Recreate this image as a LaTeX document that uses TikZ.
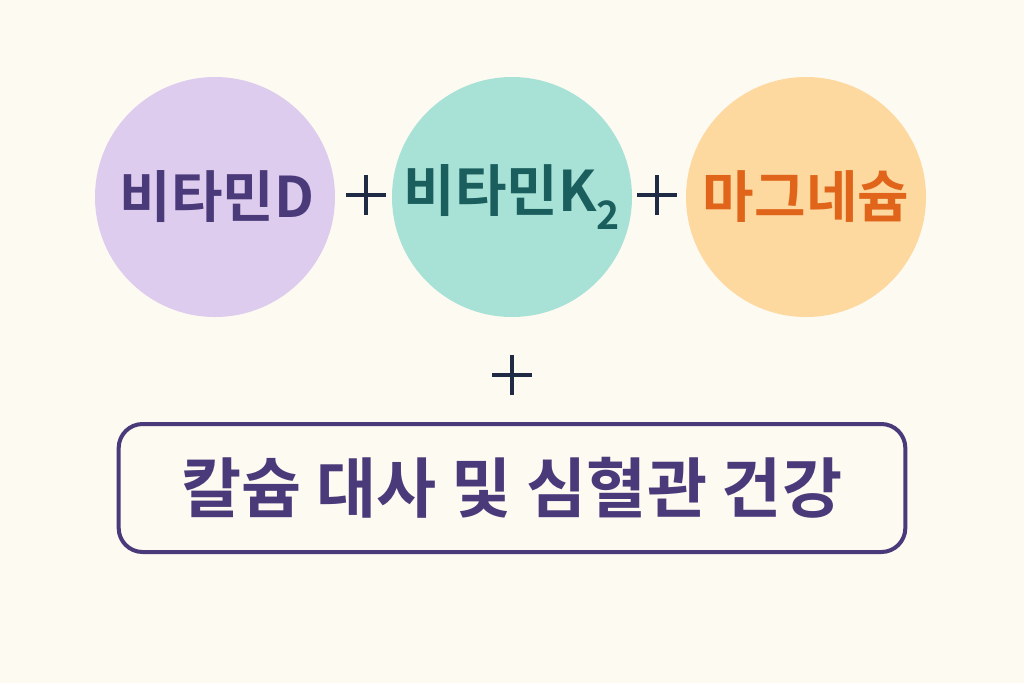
\documentclass[tikz,border=0pt]{standalone}
\usepackage{fontspec}
\newfontfamily\kr[BoldFont={Noto Sans CJK KR Bold}]{Noto Sans CJK KR}
\definecolor{bg}{HTML}{FDFAF2}
\definecolor{cpur}{HTML}{DDCCEE}
\definecolor{tpur}{HTML}{4A3A7A}
\definecolor{cteal}{HTML}{A8E2D6}
\definecolor{tteal}{HTML}{1B5E5E}
\definecolor{corg}{HTML}{FDD9A0}
\definecolor{torg}{HTML}{E0651A}
\definecolor{plusc}{HTML}{1F2A44}
\tikzset{circ/.style={circle,minimum size=180pt,inner sep=0pt},
lbl/.style={font=\kr\bfseries\fontsize{42}{48}\selectfont},
plus/.style={plusc,line width=3.6pt}}
\begin{document}
\begin{tikzpicture}[x=0.75pt,y=-0.75pt]
\fill[bg] (0,0) rectangle (1024,683);
\useasboundingbox (0,0) rectangle (1024,683);
\node[circ,fill=cpur] (c1) at (215,197) {};
\node[circ,fill=cteal] (c2) at (512,197) {};
\node[circ,fill=corg] (c3) at (806,197) {};
\node[lbl,text=tpur] (t1) at (217,197) {비타민D};
\node[lbl,text=tteal] (t2) at (512,197) {비타민K\textsubscript{2}};
\node[lbl,text=torg] (t3) at (c3) {마그네슘};
\coordinate (p1) at (366,195);
\coordinate (p2) at (657,195);
\coordinate (p3) at (512,375);
\foreach \p in {p1,p2,p3}{
 \draw[plus] ([xshift=-20*0.75pt]\p) -- ([xshift=20*0.75pt]\p);
 \draw[plus] ([yshift=-20*0.75pt]\p) -- ([yshift=20*0.75pt]\p);}
\node[draw=tpur,line width=3pt,rounded corners=18pt,minimum width=590pt,minimum height=96pt,
 font=\kr\bfseries\fontsize{49}{56}\selectfont,text=tpur] (box) at (512,488) {칼슘 대사 및 심혈관 건강};
\end{tikzpicture}
\end{document}
